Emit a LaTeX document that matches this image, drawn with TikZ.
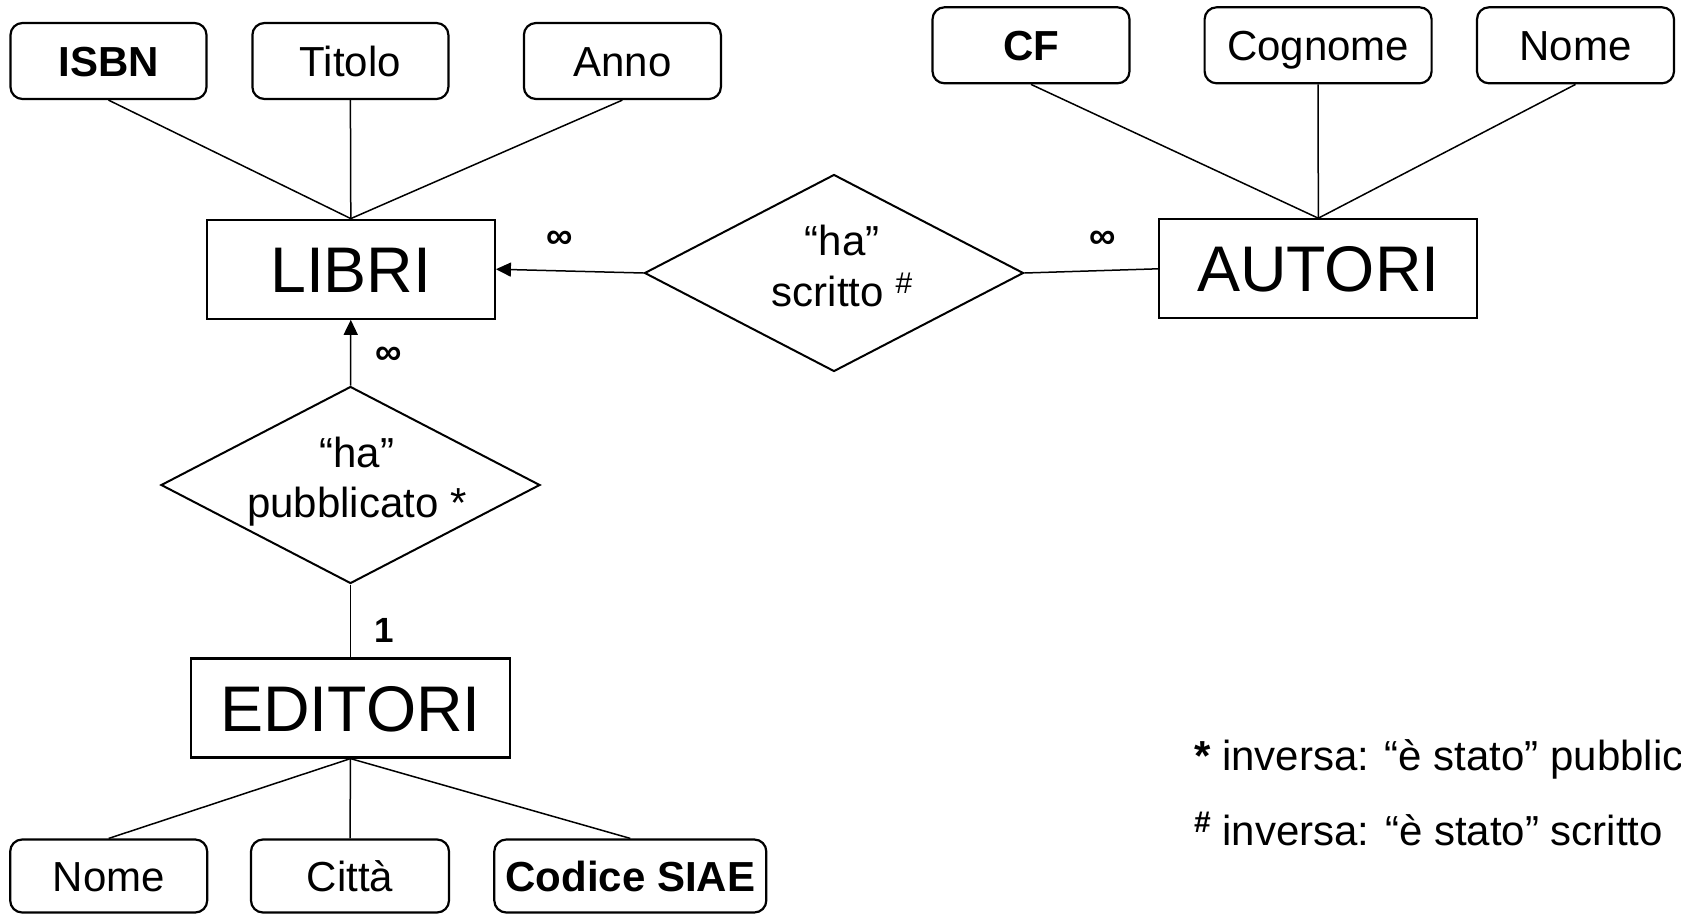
\documentclass[tikz,border=0pt]{standalone}
\usepackage{fontspec}
\setmainfont{Liberation Sans}
\usetikzlibrary{shapes.geometric,arrows.meta}

% small raised mark used after relationship names and in the notes
\newcommand{\raisedmark}[1]{\raisebox{13bp}{\fontsize{30bp}{30bp}\selectfont #1}}

\begin{document}
\begin{tikzpicture}[x=1bp,y=-1bp,
  entity/.style={draw,line width=2.2bp,minimum width=#1,minimum height=99bp,
    inner sep=0pt,font=\fontsize{64.5bp}{70bp}\selectfont,
    text height=46.2bp,text depth=0bp},
  attr/.style={draw,line width=2.2bp,rounded corners=12bp,minimum width=#1,
    minimum height=76bp,inner sep=0pt,font=\fontsize{42bp}{50bp}\selectfont,
    text height=30.1bp,text depth=0bp},
  relbox/.style={draw,line width=2bp,shape=diamond,minimum width=379bp,
    minimum height=197bp,inner sep=0pt},
  reltext/.style={inner sep=0pt,align=center},
  card/.style={inner sep=0pt,font=\fontsize{37bp}{40bp}\selectfont\bfseries},
  note/.style={inner sep=0pt,anchor=base west,font=\fontsize{42bp}{50bp}\selectfont},
  conn/.style={line width=1.5bp},
  tip/.style={conn,-{Triangle[length=15bp,width=14bp]}}
]
\useasboundingbox (0,0) rectangle (1681,913);

% entities
\node[entity=288bp] (libri)   at (350.8,269.2) {LIBRI};
\node[entity=318bp] (autori)  at (1318.3,268.8) {AUTORI};
\node[entity=319bp] (editori) at (350.5,708) {EDITORI};

% attributes of LIBRI
\node[attr=196bp] (isbn)   at (108.5,61) {\bfseries ISBN};
\node[attr=196bp] (titolo) at (350.4,61) {Titolo};
\node[attr=197bp] (anno)   at (622.4,61) {Anno};

% attributes of AUTORI
\node[attr=197bp] (cf)      at (1031,45.3) {\bfseries CF};
\node[attr=227bp] (cognome) at (1318.1,45.3) {Cognome};
\node[attr=197bp] (nomea)   at (1575.5,45.3) {Nome};

% attributes of EDITORI
\node[attr=197bp,minimum height=73bp] (nomee)  at (108.7,876) {Nome};
\node[attr=198bp,minimum height=73bp] (citta)  at (350,876) {Città};
\node[attr=272bp,minimum height=73bp] (codice) at (630.3,876) {\bfseries Codice SIAE};

% relationships
\node[relbox] (scritto) at (834,273) {};
\node[reltext,font=\fontsize{42bp}{51.5bp}\selectfont] (scrittot) at (842,265.8)
  {“ha”\\scritto \raisedmark{\#}};
\node[relbox] (pubbl) at (350.5,485) {};
\node[reltext,font=\fontsize{42bp}{49.5bp}\selectfont] (pubblt) at (357,481.6)
  {“ha”\\pubblicato *};

% attribute links
\foreach \a in {isbn,titolo,anno} \draw[conn] (\a.south) -- (libri.north);
\foreach \a in {cf,cognome,nomea} \draw[conn] (\a.south) -- (autori.north);
\foreach \a in {nomee,citta,codice} \draw[conn] (editori.south) -- (\a.north);

% relationship links
\draw[tip]  (scritto.west) -- (libri.east);
\draw[conn] (scritto.east) -- (autori.west);
\draw[tip]  (pubbl.north) -- (libri.south);
\draw[conn] (pubbl.south) -- (editori.north);

% cardinalities
\node[card] (c1) at (559.4,240) {∞};
\node[card] (c2) at (1102.8,240) {∞};
\node[card] (c3) at (388.3,355.7) {∞};
\node[card,font=\fontsize{35bp}{40bp}\selectfont\bfseries] (c4) at (384.2,630.8) {1};

% notes
\node[note] (n1) at (1194,770.7) {\textbf{*} inversa: “è stato” pubblicato};
\node[note] (n2) at (1194,845.7) {\raisedmark{\bfseries\#} inversa: “è stato” scritto};
\end{tikzpicture}
\end{document}
